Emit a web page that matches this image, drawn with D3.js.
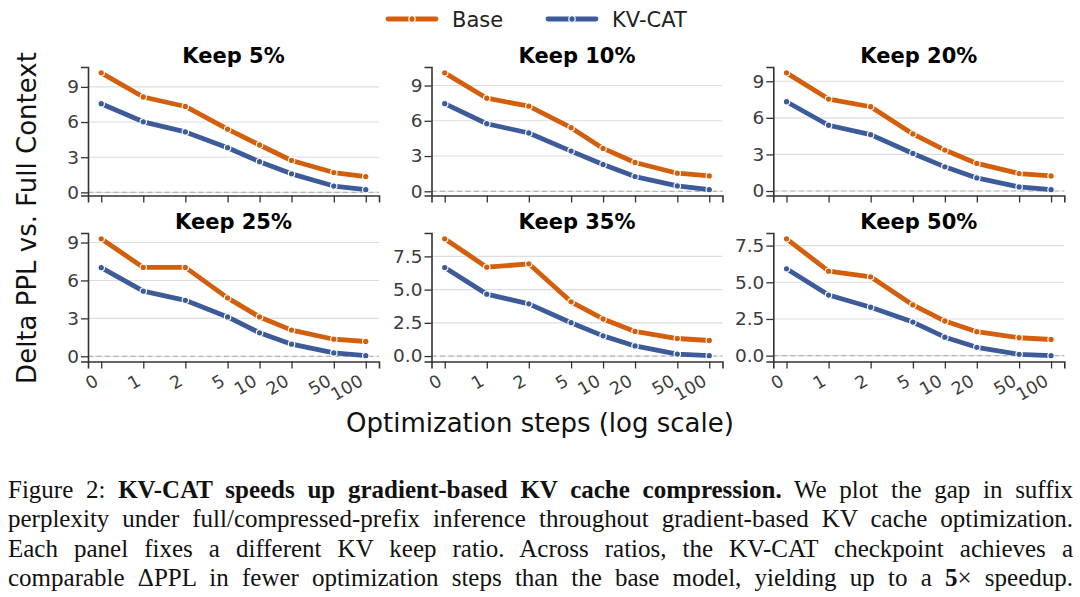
<!DOCTYPE html>
<html>
<head>
<meta charset="utf-8">
<script src="https://cdn.jsdelivr.net/npm/d3@7"></script>
<style>
  body { margin: 0; background: #fff; }
  svg { display: block; }
</style>
</head>
<body>
<svg width="1080" height="597"></svg>
<script>
// data
var steps = [0, 1, 2, 5, 10, 20, 50, 100];
var stepLabels = ["0", "1", "2", "5", "10", "20", "50", "100"];
var panelTitles = ["Keep 5%", "Keep 10%", "Keep 20%", "Keep 25%", "Keep 35%", "Keep 50%"];

var baseVals = [
  [10.2, 8.14, 7.33, 5.39, 4.04, 2.72, 1.69, 1.35],
  [10.08, 7.92, 7.24, 5.41, 3.65, 2.45, 1.54, 1.31],
  [9.69, 7.54, 6.91, 4.68, 3.36, 2.26, 1.43, 1.24],
  [9.29, 7.03, 7.03, 4.62, 3.11, 2.07, 1.35, 1.17],
  [8.82, 6.69, 6.94, 4.08, 2.79, 1.85, 1.32, 1.17],
  [7.96, 5.76, 5.37, 3.46, 2.36, 1.63, 1.22, 1.10]
];
var kvVals = [
  [7.56, 6.02, 5.16, 3.81, 2.61, 1.58, 0.54, 0.23],
  [7.46, 5.75, 4.96, 3.42, 2.28, 1.25, 0.46, 0.14],
  [7.32, 5.39, 4.62, 3.08, 1.98, 1.07, 0.33, 0.11],
  [7.01, 5.15, 4.43, 3.11, 1.86, 0.96, 0.27, 0.05],
  [6.66, 4.66, 3.93, 2.51, 1.52, 0.76, 0.15, 0.03],
  [5.92, 4.13, 3.30, 2.29, 1.26, 0.57, 0.09, 0.0]
];
var yTickVals = [
  [0, 3, 6, 9], [0, 3, 6, 9], [0, 3, 6, 9],
  [0, 3, 6, 9], [0, 2.5, 5, 7.5], [0, 2.5, 5, 7.5]
];
var yTickFormat = ["d", "d", "d", "d", ".1f", ".1f"];

var seriesNames = ["Base", "KV-CAT"];
var colors = ["#d35f0c", "#3d5b99"];

var svg = d3.select('svg');

// symlog-like step axis: linear up to 2, log beyond
var linThresh = 2;
var linSpan = 0.792;
function stepPos(s) {
  return s <= linThresh ? s / linThresh * linSpan : linSpan + Math.log10(s / linThresh);
}

var colLeft = [88, 431.5, 773.3];
var rowTop = [67, 233];
var pw = 291, ph = 128.5;

var tMin = stepPos(steps[0]), tMax = stepPos(steps[steps.length - 1]);
var tPad = (tMax - tMin) * 0.05;

panelTitles.forEach(function (title, i) {
  var row = Math.floor(i / 3);
  var g = svg.append('g')
    .attr('transform', 'translate(' + colLeft[i % 3] + ',' + rowTop[row] + ')');

  var x = d3.scaleLinear().domain([tMin - tPad, tMax + tPad]).range([0, pw]);

  var all = baseVals[i].concat(kvVals[i]);
  var lo = d3.min(all), hi = d3.max(all);
  var yPad = (hi - lo) * 0.05;
  var y = d3.scaleLinear().domain([lo - yPad, hi + yPad]).range([ph, 0]);

  // grid
  g.selectAll('.grid').data(yTickVals[i]).enter().append('line')
    .attr('x1', 0).attr('x2', pw)
    .attr('y1', d => y(d)).attr('y2', d => y(d))
    .attr('stroke', '#dcdde3').attr('stroke-width', 1.1);

  // zero reference
  g.append('line')
    .attr('x1', 0).attr('x2', pw)
    .attr('y1', y(0)).attr('y2', y(0))
    .attr('stroke', '#b4b4b4').attr('stroke-width', 1.2)
    .attr('stroke-dasharray', '5,3.5');

  // y axis
  var yAxis = g.append('g')
    .call(d3.axisLeft(y).tickValues(yTickVals[i]).tickFormat(d3.format(yTickFormat[i]))
      .tickSize(7).tickPadding(2));
  // x axis
  var xAxis = g.append('g')
    .attr('transform', 'translate(0,' + ph + ')')
    .call(d3.axisBottom(x).tickValues(steps.map(stepPos)).tickFormat('').tickSize(7));

  [yAxis, xAxis].forEach(function (a) {
    a.select('.domain').attr('stroke', '#333').attr('stroke-width', 1.6);
    a.selectAll('.tick line').attr('stroke', '#333').attr('stroke-width', 1.3);
  });
  yAxis.selectAll('.tick text')
    .attr('font-family', 'DejaVu Sans').attr('font-size', 18.5).attr('fill', '#3c3c3c');

  // rotated step labels, bottom row only
  if (row === 1) {
    g.selectAll('.xl').data(steps).enter().append('text')
      .attr('transform', d => 'translate(' + (x(stepPos(d)) - 1.5) + ',' + (ph + 23) + ') rotate(-30)')
      .attr('text-anchor', 'end')
      .attr('font-family', 'DejaVu Sans').attr('font-size', 17.5).attr('fill', '#3c3c3c')
      .text((d, k) => stepLabels[k]);
  }

  // title
  g.append('text')
    .attr('x', pw / 2).attr('y', -4)
    .attr('text-anchor', 'middle')
    .attr('font-family', 'DejaVu Sans').attr('font-weight', 'bold').attr('font-size', 21)
    .attr('fill', '#000')
    .text(title);

  var line = d3.line().x((d, k) => x(stepPos(steps[k]))).y(d => y(d));

  [baseVals[i], kvVals[i]].forEach(function (vals, s) {
    g.append('path')
      .datum(vals)
      .attr('d', line)
      .attr('fill', 'none')
      .attr('stroke', colors[s])
      .attr('stroke-width', 4.8)
      .attr('stroke-linejoin', 'round')
      .attr('stroke-linecap', 'round');
    g.selectAll('.m' + s).data(vals).enter().append('circle')
      .attr('cx', (d, k) => x(stepPos(steps[k])))
      .attr('cy', d => y(d))
      .attr('r', 3.2)
      .attr('fill', colors[s])
      .attr('stroke', '#fff')
      .attr('stroke-width', 1.1);
  });
});

// legend
var legX = [388, 548];
seriesNames.forEach(function (name, s) {
  var lg = svg.append('g').attr('transform', 'translate(' + legX[s] + ',19)');
  lg.append('line').attr('x1', 0).attr('x2', 48).attr('y1', 0).attr('y2', 0)
    .attr('stroke', colors[s]).attr('stroke-width', 4.8).attr('stroke-linecap', 'round');
  lg.append('circle').attr('cx', 24).attr('cy', 0).attr('r', 3.2)
    .attr('fill', colors[s]).attr('stroke', '#fff').attr('stroke-width', 1.1);
  lg.append('text').attr('x', 64).attr('y', 8)
    .attr('font-family', 'DejaVu Sans').attr('font-size', 21).attr('fill', '#222')
    .text(name);
});

// axis labels
svg.append('text')
  .attr('x', 540).attr('y', 432)
  .attr('text-anchor', 'middle')
  .attr('font-family', 'DejaVu Sans').attr('font-size', 26).attr('fill', '#111')
  .text('Optimization steps (log scale)');

svg.append('text')
  .attr('transform', 'translate(36,218) rotate(-90)')
  .attr('text-anchor', 'middle')
  .attr('font-family', 'DejaVu Sans').attr('font-size', 26).attr('fill', '#111')
  .text('Delta PPL vs. Full Context');

// caption, justified line by line
var captionLines = [
  [["Figure 2: ", false], ["KV-CAT speeds up gradient-based KV cache compression.", true], [" We plot the gap in suffix", false]],
  [["perplexity under full/compressed-prefix inference throughout gradient-based KV cache optimization.", false]],
  [["Each panel fixes a different KV keep ratio. Across ratios, the KV-CAT checkpoint achieves a", false]],
  [["comparable \u0394PPL in fewer optimization steps than the base model, yielding up to a ", false], ["5", true], ["\u00d7 speedup.", false]]
];
var capLeft = 8, capRight = 1073, capTop = 498, capStep = 29.4;

captionLines.forEach(function (parts, li) {
  var t = svg.append('text')
    .attr('x', capLeft).attr('y', capTop + li * capStep)
    .attr('font-family', 'Liberation Serif').attr('font-size', 25).attr('fill', '#111');
  parts.forEach(function (p) {
    t.append('tspan').attr('font-weight', p[1] ? 'bold' : 'normal').text(p[0]);
  });
  var natural = t.node().getComputedTextLength();
  var spaces = parts.map(p => p[0]).join('').split(' ').length - 1;
  t.attr('word-spacing', ((capRight - capLeft) - natural) / spaces);
});
</script>
</body>
</html>
